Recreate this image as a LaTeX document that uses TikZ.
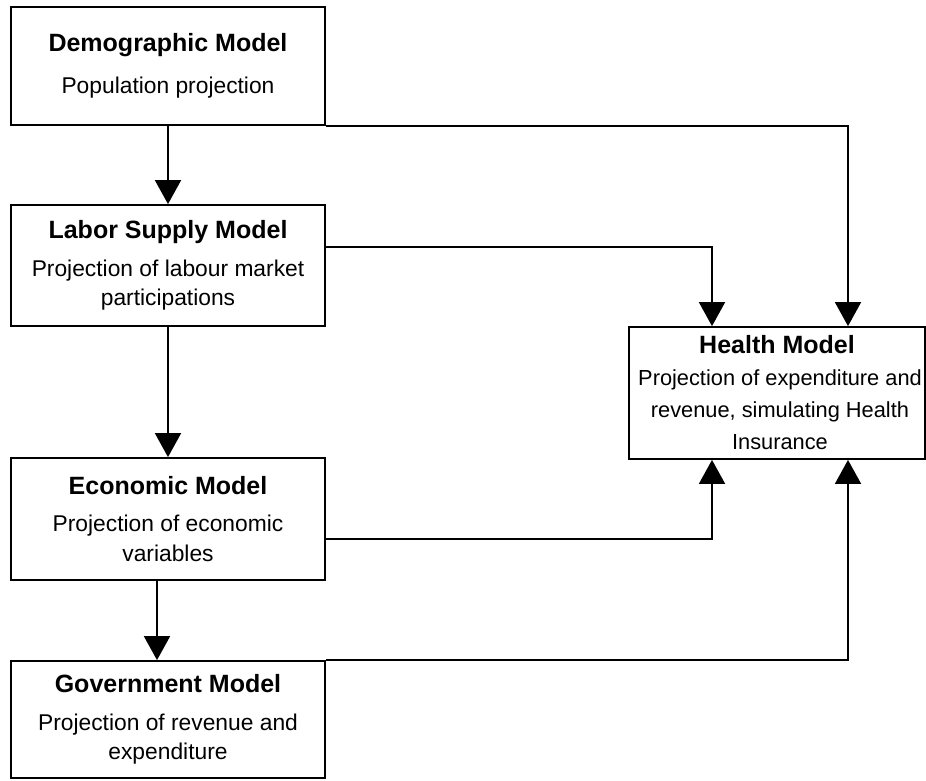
\documentclass[tikz,border=0pt]{standalone}
\usepackage{fontspec}
\setmainfont{Liberation Sans}
\usetikzlibrary{arrows.meta}

\begin{document}
\begin{tikzpicture}[x=1pt,y=-1pt,
    model/.style={draw,line width=1.8pt,align=center,inner sep=0pt,
      minimum width=314pt,font=\fontsize{22.8}{29.5}\selectfont},
    flow/.style={line width=1.8pt,-{Triangle[width=26pt,length=24pt]}}]
  \def\ttl#1{{\fontsize{25}{28}\selectfont\bfseries #1}}
  \useasboundingbox (0,0) rectangle (926,780);
  % the model boxes
  \node[model,minimum height=118pt] (demo) at (168,66)
    {\ttl{Demographic Model}\\[12pt] Population projection};
  \node[model,minimum height=121pt] (labor) at (168,265.5)
    {\ttl{Labor Supply Model}\\[8pt] Projection of labour market\\ participations};
  \node[model,minimum height=122pt] (econ) at (168,519)
    {\ttl{Economic Model}\\[8pt] Projection of economic\\ variables};
  \node[model,minimum height=117pt] (govt) at (168,719.5)
    {\ttl{Government Model}\\[8pt] Projection of revenue and\\ expenditure};
  \node[model,minimum width=296pt,minimum height=132pt,
    font=\fontsize{21.8}{32}\selectfont] (health) at (777,393)
    {\ttl{Health Model}\\[0pt] \hspace*{6pt}Projection of expenditure and\\ \hspace*{6pt}revenue, simulating Health\\ \hspace*{6pt}Insurance};
  % chain on the left
  \draw[flow] (demo.south) -- (labor.north);
  \draw[flow] (labor.south) -- (econ.north);
  \draw[flow] ([xshift=-11pt]econ.south) -- ([xshift=-11pt]govt.north);
  % feeds into the health model
  \draw[flow] (demo.south east) -| ([xshift=71pt]health.north);
  \draw[flow] ([yshift=18.5pt]labor.east) -| ([xshift=-65pt]health.north);
  \draw[flow] ([yshift=-20pt]econ.east) -| ([xshift=-65pt]health.south);
  \draw[flow] (govt.north east) -| ([xshift=71pt]health.south);
\end{tikzpicture}
\end{document}
